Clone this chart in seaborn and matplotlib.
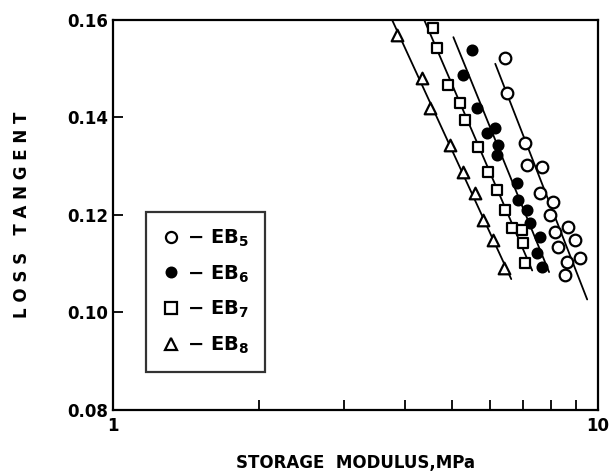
import numpy as np
import pandas as pd
import seaborn as sns
import matplotlib.pyplot as plt
from matplotlib.ticker import FixedLocator, NullFormatter, LogLocator
from matplotlib.lines import Line2D

# storage modulus (MPa) and loss tangent
eb5_x = [6.43, 6.49, 7.07, 7.14, 7.66, 7.59, 8.08, 7.96, 8.67, 8.16, 8.97, 8.27, 9.18, 8.63, 8.55]
eb5_y = [0.1522, 0.1450, 0.1348, 0.1303, 0.1299, 0.1245, 0.1227, 0.1200, 0.1175, 0.1165, 0.1149, 0.1134, 0.1112, 0.1104, 0.1077]

eb6_x = [5.50, 5.27, 5.63, 5.90, 6.13, 6.22, 6.19, 6.81, 6.84, 7.14, 7.24, 7.59, 7.48, 7.66]
eb6_y = [0.1538, 0.1487, 0.1420, 0.1368, 0.1378, 0.1344, 0.1323, 0.1266, 0.1231, 0.1210, 0.1184, 0.1155, 0.1122, 0.1093]

eb7_x = [4.57, 4.66, 4.91, 5.19, 5.32, 5.66, 5.93, 6.19, 6.43, 6.65, 6.97, 7.01, 7.07]
eb7_y = [0.1584, 0.1543, 0.1467, 0.1430, 0.1395, 0.1340, 0.1288, 0.1251, 0.1210, 0.1173, 0.1169, 0.1143, 0.1102]

eb8_x = [3.85, 4.34, 4.50, 4.95, 5.27, 5.58, 5.79, 6.07, 6.40]
eb8_y = [0.1569, 0.1481, 0.1420, 0.1344, 0.1288, 0.1245, 0.1190, 0.1149, 0.1091]

series = ["EB5", "EB6", "EB7", "EB8"]
legend_labels = [r"$-$ EB$_5$", r"$-$ EB$_6$", r"$-$ EB$_7$", r"$-$ EB$_8$"]
y_ticks = [0.08, 0.10, 0.12, 0.14, 0.16]

df = pd.concat([
    pd.DataFrame({"modulus": eb5_x, "tan_delta": eb5_y, "sample": "EB5"}),
    pd.DataFrame({"modulus": eb6_x, "tan_delta": eb6_y, "sample": "EB6"}),
    pd.DataFrame({"modulus": eb7_x, "tan_delta": eb7_y, "sample": "EB7"}),
    pd.DataFrame({"modulus": eb8_x, "tan_delta": eb8_y, "sample": "EB8"}),
])

sns.set_style("ticks")
plt.rcParams['font.family'] = ['DejaVu Sans']
plt.rcParams['mathtext.default'] = 'bf'
# plain black ink, like the printed original
for key in ["text.color", "axes.labelcolor", "xtick.color", "ytick.color", "axes.edgecolor"]:
    plt.rcParams[key] = "black"

fig = plt.figure(figsize=(6.12, 4.76), dpi=100)
ax = fig.add_axes([0.185, 0.139, 0.792, 0.819])

markers = {"EB5": "o", "EB6": "o", "EB7": "s", "EB8": "^"}
faces = {"EB5": "white", "EB6": "black", "EB7": "white", "EB8": "white"}
sizes = {"EB5": 70, "EB6": 50, "EB7": 60, "EB8": 70}

for s in series:
    d = df[df["sample"] == s]
    # straight line fit in semi-log space
    lx = np.log10(d["modulus"].values)
    k, b = np.polyfit(lx, d["tan_delta"].values, 1)
    xs = np.array([lx.min() - 0.02, lx.max() + 0.015])
    ax.plot(10 ** xs, k * xs + b, color="black", lw=1.3, zorder=1)
    sns.scatterplot(data=d, x="modulus", y="tan_delta", ax=ax, marker=markers[s],
                    s=sizes[s], facecolor=faces[s], edgecolor="black", linewidth=1.6,
                    zorder=2, legend=False)

ax.set_xscale("log")
ax.set_xlim(1, 10)
ax.set_ylim(0.08, 0.16)
ax.xaxis.set_major_locator(FixedLocator([1, 10]))
ax.set_xticklabels(["1", "10"])
ax.xaxis.set_minor_locator(LogLocator(base=10, subs=np.arange(2, 10)))
ax.xaxis.set_minor_formatter(NullFormatter())
ax.set_yticks(y_ticks)
ax.set_yticklabels([f"{v:.2f}" for v in y_ticks])
for lab in ax.get_xticklabels() + ax.get_yticklabels():
    lab.set_fontweight("bold")

ax.tick_params(axis="both", which="both", direction="in", labelsize=12, width=1.3)
ax.tick_params(axis="x", which="major", length=0, pad=5)
ax.tick_params(axis="x", which="minor", length=7)
ax.tick_params(axis="y", which="major", length=7)
for sp in ax.spines.values():
    sp.set_linewidth(1.6)

ax.set_xlabel("STORAGE  MODULUS,MPa", fontsize=12, fontweight="bold", labelpad=14)
ax.set_ylabel("L O S S   T A N G E N T", fontsize=12, fontweight="bold", labelpad=26)

handles = [
    Line2D([], [], ls="none", marker="o", ms=8, mfc="white", mec="black", mew=1.6),
    Line2D([], [], ls="none", marker="o", ms=7, mfc="black", mec="black", mew=1.6),
    Line2D([], [], ls="none", marker="s", ms=8, mfc="white", mec="black", mew=1.6),
    Line2D([], [], ls="none", marker="^", ms=9, mfc="white", mec="black", mew=1.6),
]
leg = ax.legend(handles, legend_labels, loc="upper left", bbox_to_anchor=(0.068, 0.508),
                frameon=True, fancybox=False, edgecolor="black",
                prop={"size": 14, "weight": "bold"},
                handletextpad=0.3, handlelength=1.0, labelspacing=0.75,
                borderpad=0.8, borderaxespad=0)
leg.get_frame().set_linewidth(1.6)

fig.savefig("out.png", dpi=100)
